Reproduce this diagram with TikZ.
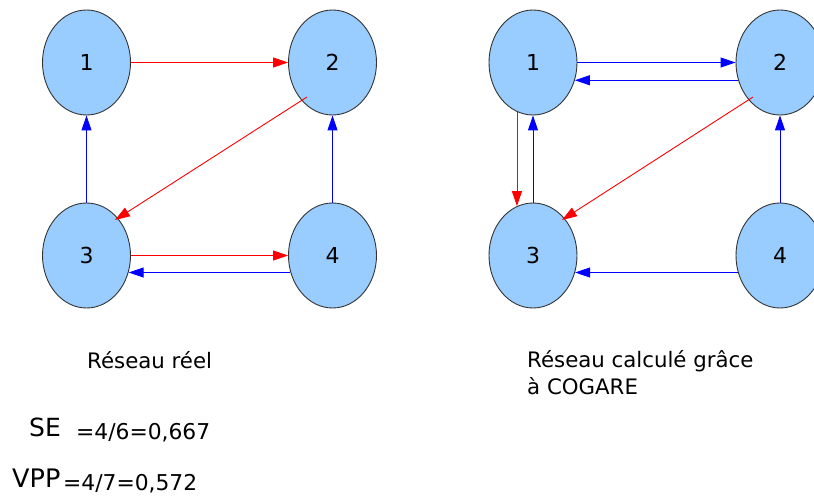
\documentclass[tikz,border=0pt]{standalone}
\usepackage{fontspec}
\setmainfont{DejaVu Sans}
\usetikzlibrary{arrows.meta,calc,shapes.geometric}
\definecolor{nodefill}{HTML}{99CCFF}
\definecolor{nodeline}{HTML}{333333}
\begin{document}
\begin{tikzpicture}[x=1pt,y=-1pt,
  vert/.style={ellipse,draw=nodeline,fill=nodefill,line width=0.9pt,
    minimum width=88pt,minimum height=105pt,inner sep=0pt,
    font=\fontsize{22}{26}\selectfont},
  redarr/.style={draw=red,line width=0.9pt,-{Triangle[length=15pt,width=10pt]}},
  bluearr/.style={draw=blue,line width=0.9pt,-{Triangle[length=15pt,width=10pt]}},
  lbl/.style={anchor=base west,inner sep=0pt,font=\fontsize{21.3}{27}\selectfont}]
\useasboundingbox (0,0) rectangle (814,500);
% left network
\node[vert] (l1) at (86.5,62.5) {1};
\node[vert] (l2) at (332.5,62.5) {2};
\node[vert] (l3) at (86.5,255.5) {3};
\node[vert] (l4) at (332.5,255.5) {4};
\draw[redarr] (l1.east) -- (l2.west);
\draw[redarr] ($(l2)+(-25.5,34.5)$) -- ($(l3)+(28.5,-35.5)$);
\draw[bluearr] (l3.north) -- (l1.south);
\draw[bluearr] (l4.north) -- (l2.south);
\draw[redarr] (l3.east) -- (l4.west);
\draw[bluearr] (l4.202) -- (l3.-22);
% right network
\node[vert] (r1) at (533,62.5) {1};
\node[vert] (r2) at (780,62.5) {2};
\node[vert] (r3) at (533,255.5) {3};
\node[vert] (r4) at (780,255.5) {4};
\draw[bluearr] (r1.east) -- (r2.west);
\draw[bluearr] (r2.203) -- (r1.-23);
\draw[redarr] ($(r2)+(-27,34.5)$) -- ($(r3)+(29,-35.5)$);
\draw[redarr] (r1.252) -- (r3.108);
\draw[bluearr] (r3.north) -- (r1.south);
\draw[bluearr] (r4.north) -- (r2.south);
\draw[bluearr] (r4.202) -- (r3.-22);
% labels
\node[lbl] (t1) at (87,368) {Réseau réel};
\node[lbl] (t2) at (527,367) {Réseau calculé grâce};
\node[lbl] (t3) at (527,394) {à COGARE};
\node[lbl,font=\fontsize{25}{28}\selectfont] (se) at (29,436) {SE};
\node[lbl,font=\fontsize{21.8}{26}\selectfont] (sev) at (76,439) {=4/6=0,667};
\node[lbl,font=\fontsize{25.5}{29}\selectfont] (vpp) at (12,487) {VPP};
\node[lbl,font=\fontsize{21.8}{26}\selectfont] (vppv) at (63,490) {=4/7=0,572};
\end{tikzpicture}
\end{document}
